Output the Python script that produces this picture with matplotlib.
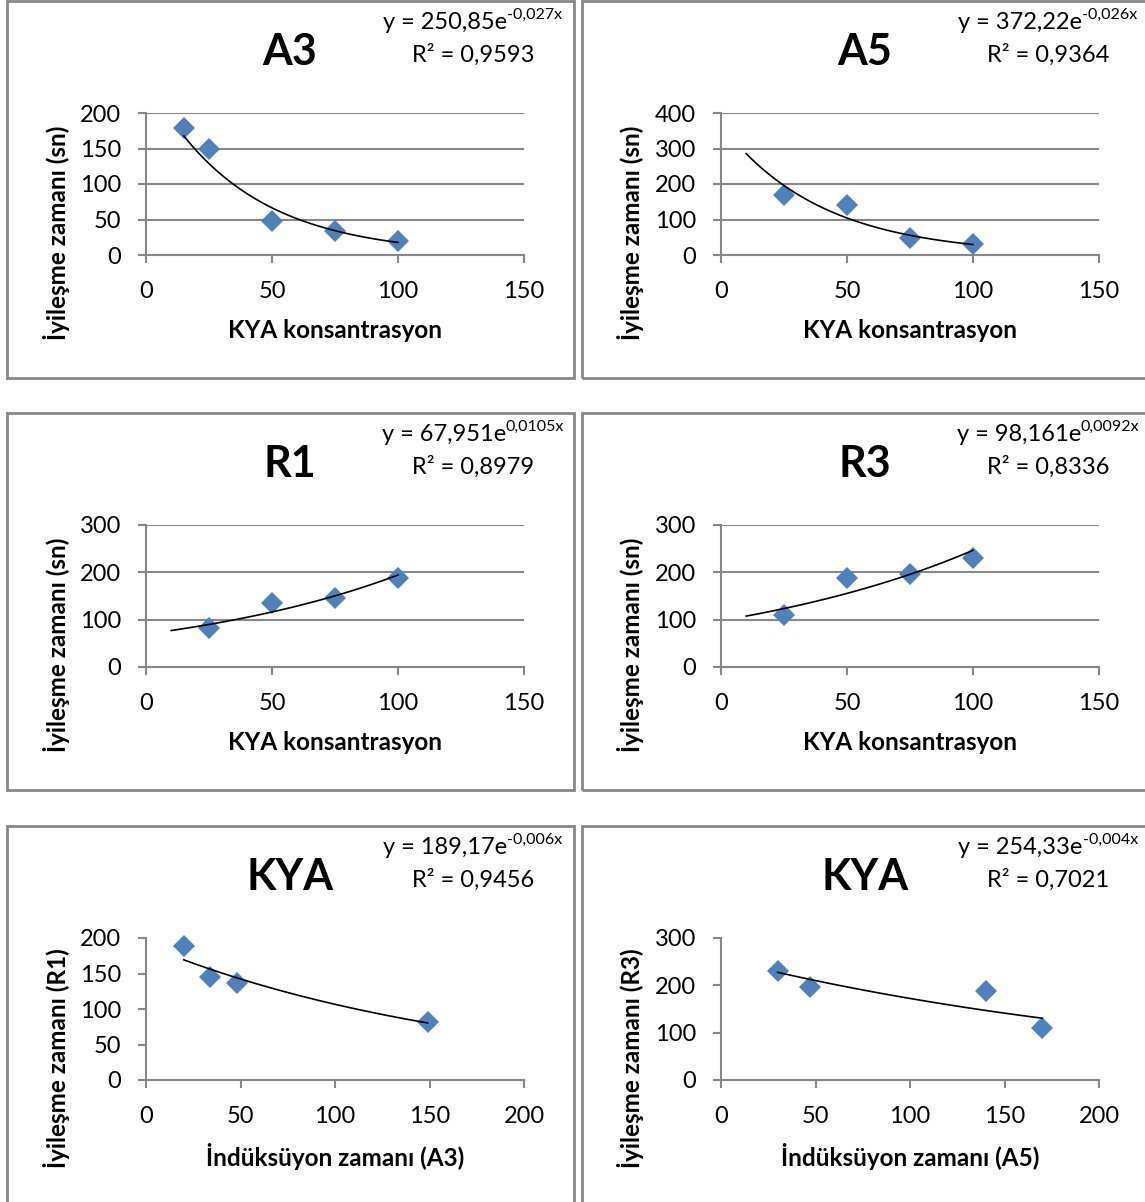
import numpy as np
import matplotlib
matplotlib.use("Agg")
import matplotlib.pyplot as plt
from matplotlib.patches import Rectangle

plt.rcParams["font.family"] = ["Lato", "DejaVu Sans"]

W, H = 1145, 1202

# -- Data ---------------------------------------------------------------------
conc_a3 = [15, 25, 50, 75, 100]
heal_a3 = [179, 149, 48, 34, 20]
conc = [25, 50, 75, 100]
heal_a5 = [170, 140, 47, 30]
heal_r1 = [82, 136, 145, 189]
heal_r3 = [109, 187, 197, 231]
induct_a3 = [149, 48, 34, 20]
induct_a5 = [170, 140, 47, 30]

titles = ["A3", "A5", "R1", "R3", "KYA", "KYA"]
eq_text = ["y = 250,85e", "y = 372,22e", "y = 67,951e",
           "y = 98,161e", "y = 189,17e", "y = 254,33e"]
eq_exp = ["-0,027x", "-0,026x", "0,0105x", "0,0092x", "-0,006x", "-0,004x"]
r2_text = ["R² = 0,9593", "R² = 0,9364", "R² = 0,8979",
           "R² = 0,8336", "R² = 0,9456", "R² = 0,7021"]
xlabels = ["KYA konsantrasyon"] * 4 + ["İndüksüyon zamanı (A3)",
                                       "İndüksüyon zamanı (A5)"]
ylabels = ["İyileşme zamanı (sn)"] * 4 + ["İyileşme zamanı (R1)",
                                          "İyileşme zamanı (R3)"]
xs = [conc_a3, conc, conc, conc, induct_a3, induct_a5]
ys = [heal_a3, heal_a5, heal_r1, heal_r3, heal_r1, heal_r3]
xticks = [[0, 50, 100, 150]] * 4 + [[0, 50, 100, 150, 200]] * 2
yticks = [[0, 50, 100, 150, 200], [0, 100, 200, 300, 400],
          [0, 100, 200, 300], [0, 100, 200, 300],
          [0, 50, 100, 150, 200], [0, 100, 200, 300]]
trend_start = [15, 10, 10, 10, None, None]

# -- Layout -------------------------------------------------------------------
origins = [(7, 1), (582, 1), (7, 413), (582, 413), (7, 826), (582, 826)]
PW, PH = 567, 377
GRAY = "#878787"
BLUE = "#4F81BD"

fig = plt.figure(figsize=(W / 100, H / 100), dpi=100)
fig.canvas.draw()
renderer = fig.canvas.get_renderer()


def fx(px):
    return px / W


def fy(py):
    return 1 - py / H


for i, (ox, oy) in enumerate(origins):
    fig.patches.append(Rectangle((fx(ox), fy(oy + PH)), PW / W, PH / H,
                                 transform=fig.transFigure, fill=False,
                                 edgecolor=GRAY, linewidth=2))

    ax = fig.add_axes([fx(ox + 139), fy(oy + 254), 378 / W, 142 / H])
    x = np.array(xs[i], float)
    y = np.array(ys[i], float)

    ax.plot(x, y, "D", color=BLUE, markersize=11, markeredgewidth=0,
            zorder=3, clip_on=False)
    b, a = np.polyfit(x, np.log(y), 1)
    x0 = trend_start[i] if trend_start[i] is not None else x.min()
    xf = np.linspace(x0, x.max(), 100)
    ax.plot(xf, np.exp(a + b * xf), color="black", linewidth=1.2, zorder=4)

    ax.set_xlim(xticks[i][0], xticks[i][-1])
    ax.set_ylim(yticks[i][0], yticks[i][-1])
    ax.set_xticks(xticks[i])
    ax.set_yticks(yticks[i])
    for s in ["top", "right"]:
        ax.spines[s].set_visible(False)
    for s in ["left", "bottom"]:
        ax.spines[s].set_color(GRAY)
        ax.spines[s].set_linewidth(1.5)
    ax.tick_params(axis="both", direction="out", length=6, width=1.5,
                   color=GRAY, labelsize=17, labelcolor="black")
    ax.tick_params(axis="y", pad=12)
    ax.tick_params(axis="x", pad=13)
    if i < 4:
        ax.yaxis.grid(True, color=GRAY, linewidth=1.5)
        ax.set_axisbelow(True)

    fig.text(fx(ox + 283), fy(oy + 51), titles[i], fontsize=31,
             fontweight="bold", ha="center", va="center")
    fig.text(fx(ox + 328), fy(oy + 330), xlabels[i], fontsize=17.5,
             fontweight="bold", ha="center", va="center")
    fig.text(fx(ox + 49), fy(oy + 232), ylabels[i], fontsize=17.5,
             fontweight="bold", ha="center", va="center", rotation=90)

    # trendline label: equation with superscript, centred over R² line
    base = fig.text(0, fy(oy + 28), eq_text[i], fontsize=17,
                    ha="left", va="baseline")
    sup = fig.text(0, fy(oy + 18), eq_exp[i], fontsize=11.5,
                   ha="left", va="baseline")
    wb = base.get_window_extent(renderer).width
    ws = sup.get_window_extent(renderer).width
    cx = ox + 466
    left = cx - (wb + ws) / 2
    base.set_x(fx(left))
    sup.set_x(fx(left + wb))
    fig.text(fx(cx), fy(oy + 61), r2_text[i], fontsize=17,
             ha="center", va="baseline")

fig.savefig("out.png", dpi=100)
